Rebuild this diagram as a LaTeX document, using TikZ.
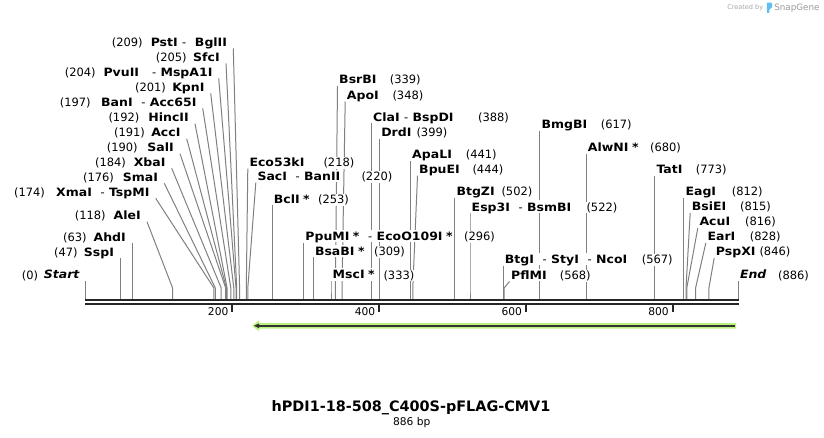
\documentclass[tikz,border=0pt]{standalone}
\usepackage{fontspec}
\setmainfont{DejaVu Sans}[BoldFeatures={FakeStretch=1.09}, BoldItalicFeatures={FakeStretch=1.09}]
\newfontfamily\titlefont{DejaVu Sans}
\usetikzlibrary{backgrounds}

\definecolor{cutgray}{RGB}{128,128,128}
\definecolor{featgreen}{RGB}{186,242,128}
\definecolor{logoblue}{RGB}{96,190,240}
\newcommand{\labfont}{\fontsize{8.6pt}{10pt}\selectfont}
\newcommand{\dsh}{\textmd{-}}
\newcommand{\mth}{\hspace{2.6pt}*}

\begin{document}
\begin{tikzpicture}[x=0.75pt, y=-0.75pt,
    enz/.style={font=\labfont\bfseries, fill=white, inner xsep=1.1pt, inner ysep=1.5pt,
                text height=6.4pt, text depth=0pt, anchor=south west},
    enzl/.style={enz, inner xsep=4.5pt, anchor=south east},
    bpnum/.style={font=\labfont, fill=white, inner sep=0.4pt, anchor=base west},
    cutline/.style={draw=cutgray, line width=0.75pt},
    ticklab/.style={font=\fontsize{8pt}{9pt}\selectfont, anchor=east, inner sep=0pt}]
  \useasboundingbox (0,0) rectangle (824,438);

  % cut sites, where the lines turn down to the ruler
  \coordinate (rul) at (0,299);
  \path (85.7,288) coordinate (s0)     (120.3,288) coordinate (s47)
        (132.1,288) coordinate (s63)   (172.6,288) coordinate (s118)
        (213.9,288) coordinate (s174)  (215.3,288) coordinate (s176)
        (221.2,288) coordinate (s184)  (225.7,288) coordinate (s190)
        (226.4,288) coordinate (s191)  (227.1,288) coordinate (s192)
        (230.8,288) coordinate (s197)  (233.8,288) coordinate (s201)
        (236.0,288) coordinate (s204)  (236.7,288) coordinate (s205)
        (239.6,288) coordinate (s209)  (246.3,288) coordinate (s218)
        (247.8,288) coordinate (s220)  (272.1,288) coordinate (s253)
        (303.7,288) coordinate (s296)  (313.3,288) coordinate (s309)
        (331.0,288) coordinate (s333)  (335.4,288) coordinate (s339)
        (342.0,288) coordinate (s348)  (371.5,288) coordinate (s388)
        (379.6,288) coordinate (s399)  (410.5,288) coordinate (s441)
        (412.8,288) coordinate (s444)  (454.8,288) coordinate (s502)
        (470.0,288) coordinate (s522)  (503.2,288) coordinate (s567)
        (504.1,288) coordinate (s568)  (539.8,288) coordinate (s617)
        (586.2,288) coordinate (s680)  (654.8,288) coordinate (s773)
        (683.8,288) coordinate (s812)  (686.0,288) coordinate (s815)
        (686.8,288) coordinate (s816)  (695.6,288) coordinate (s828)
        (708.9,288) coordinate (s846)  (738.3,288) coordinate (s886);

  % enzymes left of their lines
  \path (233.3,48.3)  node[enzl] (pstI)   {PstI~\dsh~~BglII}
        (226.0,63.3)  node[enzl] (sfcI)   {SfcI}
        (218.7,78.3)  node[enzl] (pvuII)  {PvuII~~~\dsh~MspA1I}
        (210.7,93.3)  node[enzl] (kpnI)   {KpnI}
        (202.7,108.3) node[enzl] (banI)   {BanI~~\dsh~Acc65I}
        (195.0,123.7) node[enzl] (hincII) {HincII}
        (186.7,138.7) node[enzl] (accI)   {AccI}
        (180.0,153.7) node[enzl] (salI)   {SalI}
        (171.7,168.3) node[enzl] (xbaI)   {XbaI}
        (164.3,183.3) node[enzl] (smaI)   {SmaI}
        (155.7,198.3) node[enzl] (xmaI)   {XmaI~~\dsh~TspMI}
        (147.0,221.7) node[enzl] (aleI)   {AleI}
        (132.1,243.3) node[enzl] (ahdI)   {AhdI}
        (120.3,258.3) node[enzl] (sspI)   {SspI}
        (85.7,281.0)  node[enzl] (startlab) {\itshape Start};
  \path (111.0,46.3)  node[bpnum] (n209) {(209)}
        (155.0,61.3)  node[bpnum] (n205) {(205)}
        (64.0,76.3)   node[bpnum] (n204) {(204)}
        (134.3,91.3)  node[bpnum] (n201) {(201)}
        (59.0,106.3)  node[bpnum] (n197) {(197)}
        (107.7,121.7) node[bpnum] (n192) {(192)}
        (113.3,136.7) node[bpnum] (n191) {(191)}
        (106.0,151.7) node[bpnum] (n190) {(190)}
        (94.3,166.3)  node[bpnum] (n184) {(184)}
        (82.3,181.3)  node[bpnum] (n176) {(176)}
        (13.3,196.3)  node[bpnum] (n174) {(174)}
        (74.0,219.7)  node[bpnum] (n118) {(118)}
        (62.3,241.3)  node[bpnum] (n63)  {(63)}
        (53.3,256.3)  node[bpnum] (n47)  {(47)}
        (21.0,279.0)  node[bpnum] (n0)   {(0)};

  % enzymes right of their lines
  \path (247.8,168.7) node[enz] (eco53kI) {Eco53kI}
        (255.8,182.7) node[enz] (sacI)    {SacI~~\dsh~BanII}
        (272.1,205.5) node[enz] (bclI)    {BclI\mth}
        (303.7,242.7) node[enz] (ppuMI)   {PpuMI\mth~~\dsh~EcoO109I\mth}
        (313.3,257.5) node[enz] (bsaBI)   {BsaBI\mth}
        (331.0,281.0) node[enz] (mscI)    {MscI\mth}
        (337.5,86.0)  node[enz] (bsrBI)   {BsrBI}
        (345.2,101.5) node[enz] (apoI)    {ApoI}
        (371.5,123.3) node[enz] (claI)    {ClaI~\dsh~BspDI}
        (379.6,138.7) node[enz] (drdI)    {DrdI}
        (410.5,161.0) node[enz] (apaLI)   {ApaLI}
        (417.5,175.7) node[enz] (bpuEI)   {BpuEI}
        (454.8,197.7) node[enz] (btgZI)   {BtgZI}
        (470.0,213.3) node[enz] (esp3I)   {Esp3I~~\dsh~BsmBI}
        (503.2,265.7) node[enz] (btgI)    {BtgI~~\dsh~StyI~~\dsh~NcoI}
        (509.5,281.5) node[enz] (pflMI)   {PflMI}
        (539.8,131.0) node[enz] (bmgBI)   {BmgBI}
        (586.2,153.7) node[enz] (alwNI)   {AlwNI\mth}
        (654.8,176.0) node[enz] (tatI)    {TatI}
        (683.8,197.7) node[enz] (eagI)    {EagI}
        (690.2,213.0) node[enz] (bsiEI)   {BsiEI}
        (697.8,228.0) node[enz] (acuI)    {AcuI}
        (705.8,243.0) node[enz] (earI)    {EarI}
        (714.2,258.0) node[enz] (pspXI)   {PspXI}
        (738.3,281.0) node[enz] (endlab)  {\itshape End};
  \path (322.7,166.7) node[bpnum] (n218) {(218)}
        (360.7,180.7) node[bpnum] (n220) {(220)}
        (317.3,203.5) node[bpnum] (n253) {(253)}
        (463.3,240.7) node[bpnum] (n296) {(296)}
        (373.3,255.5) node[bpnum] (n309) {(309)}
        (382.7,279.0) node[bpnum] (n333) {(333)}
        (389.0,84.0)  node[bpnum] (n339) {(339)}
        (391.7,99.5)  node[bpnum] (n348) {(348)}
        (477.3,121.3) node[bpnum] (n388) {(388)}
        (415.7,136.7) node[bpnum] (n399) {(399)}
        (465.0,159.0) node[bpnum] (n441) {(441)}
        (471.7,173.7) node[bpnum] (n444) {(444)}
        (500.7,195.7) node[bpnum] (n502) {(502)}
        (585.7,211.3) node[bpnum] (n522) {(522)}
        (641.0,263.7) node[bpnum] (n567) {(567)}
        (559.0,279.5) node[bpnum] (n568) {(568)}
        (600.0,129.0) node[bpnum] (n617) {(617)}
        (649.3,151.7) node[bpnum] (n680) {(680)}
        (695.0,174.0) node[bpnum] (n773) {(773)}
        (731.0,195.7) node[bpnum] (n812) {(812)}
        (739.3,211.0) node[bpnum] (n815) {(815)}
        (744.3,226.0) node[bpnum] (n816) {(816)}
        (749.0,241.0) node[bpnum] (n828) {(828)}
        (758.7,256.0) node[bpnum] (n846) {(846)}
        (777.3,279.0) node[bpnum] (n886) {(886)};

  \begin{pgfonlayer}{background}
    \draw[cutline] (pstI.south east) -- (s209) -- (s209 |- rul);
    \draw[cutline] (sfcI.south east) -- (s205) -- (s205 |- rul);
    \draw[cutline] (pvuII.south east) -- (s204) -- (s204 |- rul);
    \draw[cutline] (kpnI.south east) -- (s201) -- (s201 |- rul);
    \draw[cutline] (banI.south east) -- (s197) -- (s197 |- rul);
    \draw[cutline] (hincII.south east) -- (s192) -- (s192 |- rul);
    \draw[cutline] (accI.south east) -- (s191) -- (s191 |- rul);
    \draw[cutline] (salI.south east) -- (s190) -- (s190 |- rul);
    \draw[cutline] (xbaI.south east) -- (s184) -- (s184 |- rul);
    \draw[cutline] (smaI.south east) -- (s176) -- (s176 |- rul);
    \draw[cutline] (xmaI.south east) -- (s174) -- (s174 |- rul);
    \draw[cutline] (aleI.south east) -- (s118) -- (s118 |- rul);
    \draw[cutline] (ahdI.south east) -- (s63) -- (s63 |- rul);
    \draw[cutline] (sspI.south east) -- (s47) -- (s47 |- rul);
    \draw[cutline] (startlab.south east) -- (s0) -- (s0 |- rul);
    \draw[cutline] (eco53kI.south west) -- (s218) -- (s218 |- rul);
    \draw[cutline] (sacI.south west) -- (s220) -- (s220 |- rul);
    \draw[cutline] (bclI.south west) -- (s253) -- (s253 |- rul);
    \draw[cutline] (ppuMI.south west) -- (s296) -- (s296 |- rul);
    \draw[cutline] (bsaBI.south west) -- (s309) -- (s309 |- rul);
    \draw[cutline] (mscI.south west) -- (s333) -- (s333 |- rul);
    \draw[cutline] (bsrBI.south west) -- (s339) -- (s339 |- rul);
    \draw[cutline] (apoI.south west) -- (s348) -- (s348 |- rul);
    \draw[cutline] (claI.south west) -- (s388) -- (s388 |- rul);
    \draw[cutline] (drdI.south west) -- (s399) -- (s399 |- rul);
    \draw[cutline] (apaLI.south west) -- (s441) -- (s441 |- rul);
    \draw[cutline] (bpuEI.south west) -- (s444) -- (s444 |- rul);
    \draw[cutline] (btgZI.south west) -- (s502) -- (s502 |- rul);
    \draw[cutline] (esp3I.south west) -- (s522) -- (s522 |- rul);
    \draw[cutline] (btgI.south west) -- (s567) -- (s567 |- rul);
    \draw[cutline] (pflMI.south west) -- (s568) -- (s568 |- rul);
    \draw[cutline] (bmgBI.south west) -- (s617) -- (s617 |- rul);
    \draw[cutline] (alwNI.south west) -- (s680) -- (s680 |- rul);
    \draw[cutline] (tatI.south west) -- (s773) -- (s773 |- rul);
    \draw[cutline] (eagI.south west) -- (s812) -- (s812 |- rul);
    \draw[cutline] (bsiEI.south west) -- (s815) -- (s815 |- rul);
    \draw[cutline] (acuI.south west) -- (s816) -- (s816 |- rul);
    \draw[cutline] (earI.south west) -- (s828) -- (s828 |- rul);
    \draw[cutline] (pspXI.south west) -- (s846) -- (s846 |- rul);
    \draw[cutline] (endlab.south west) -- (s886) -- (s886 |- rul);
  \end{pgfonlayer}

  % ruler
  \draw[black!85, line width=1.3pt] (85,300) -- (739,300);
  \draw[black!85, line width=1.5pt] (85,304.3) -- (739,304.3);
  \draw[black!85, line width=1.3pt] (232.3,304) -- (232.3,312.3)
                                    (379.1,304) -- (379.1,312.3)
                                    (525.9,304) -- (525.9,312.3)
                                    (672.7,304) -- (672.7,312.3);
  \path (228.6,311.6) node[ticklab] (t200) {200}
        (375.4,311.6) node[ticklab] (t400) {400}
        (522.2,311.6) node[ticklab] (t600) {600}
        (669.0,311.6) node[ticklab] (t800) {800};

  % feature arrow
  \fill[featgreen] (736,323.1) -- (259,323.1) -- (259,320.3) -- (252,325.8)
                   -- (259,331.3) -- (259,328.5) -- (736,328.5) -- cycle;
  \draw[black!80, line width=1.2pt] (734.5,325.8) -- (257,325.8);
  \fill[black!80] (254,325.8) -- (259,323.4) -- (259,328.2) -- cycle;

  % name and length
  \node[font=\titlefont\fontsize{10.8pt}{12pt}\selectfont\bfseries, inner sep=0pt] (title)
       at (411,408) {hPDI1-18-508\_C400S-pFLAG-CMV1};
  \node[font=\fontsize{8pt}{9pt}\selectfont, inner sep=0pt] (size) at (411.7,422.3) {886 bp};

  % created by
  \node[font=\fontsize{4.9pt}{5pt}\selectfont, text=black!35, anchor=west, inner sep=0pt]
       (created) at (727,7.8) {Created by};
  \fill[logoblue, rounded corners=0.6pt] (766.8,2.6) -- (772,2.6) -- (772,8)
       -- (769.4,9) -- (769.4,13) -- (766.8,13) -- cycle;
  \node[font=\fontsize{6.6pt}{7pt}\selectfont, text=black!40, anchor=west, inner sep=0pt]
       (snapgene) at (774,7.8) {SnapGene};
\end{tikzpicture}
\end{document}
